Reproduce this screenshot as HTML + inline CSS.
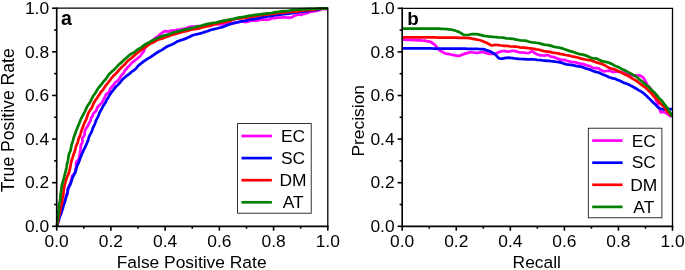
<!DOCTYPE html>
<html><head><meta charset="utf-8"><title>ROC and PR curves</title>
<style>
html,body{margin:0;padding:0;background:#fff;}
svg{display:block;will-change:transform;}
text{font-family:"Liberation Sans",Arial,sans-serif;fill:#000;}
.t{font-size:17.4px;}
.l{font-size:17.4px;}
.p{font-size:20px;font-weight:bold;}
</style></head><body>
<svg width="685" height="270" viewBox="0 0 685 270">
<rect width="685" height="270" fill="#fff"/>
<clipPath id="ca"><rect x="55.7" y="6.999999999999999" width="273.1" height="220.50000000000003"/></clipPath>
<g clip-path="url(#ca)">
<polyline fill="none" stroke="#ff00ff" stroke-width="2.75" stroke-linejoin="round" stroke-linecap="butt" points="56.7,226.3 57.4,224.9 57.6,223.4 58.0,222.0 58.4,220.5 58.8,219.1 59.1,217.6 59.6,216.1 60.4,214.8 61.0,213.4 61.2,211.9 61.6,210.5 62.2,209.1 62.6,207.6 62.7,206.0 63.2,204.6 63.9,203.2 64.6,201.9 64.7,200.3 65.3,199.0 66.0,197.6 66.6,196.2 67.1,194.8 67.6,193.4 67.7,191.8 67.6,190.2 67.7,188.6 68.5,187.3 69.2,185.9 69.8,184.6 70.3,183.1 70.7,181.7 71.3,180.3 71.4,178.7 72.0,177.3 72.2,175.8 73.5,174.6 74.7,173.5 75.3,172.1 75.5,170.5 75.6,169.0 76.1,167.6 76.2,166.0 76.2,164.5 76.1,162.9 76.7,161.5 78.1,160.3 79.0,159.0 79.1,157.4 79.3,155.9 79.8,154.5 80.1,153.0 80.1,151.5 80.4,150.0 80.6,148.5 80.5,146.9 80.9,145.5 81.4,144.0 82.3,142.7 82.5,141.2 82.3,139.6 82.4,138.0 83.5,136.8 84.4,135.5 84.7,134.0 84.6,132.4 85.0,130.9 85.6,129.5 86.2,128.1 87.2,126.9 87.9,125.6 88.6,124.2 89.2,122.8 90.1,121.6 90.6,120.1 90.9,118.7 91.6,117.4 92.5,116.1 92.9,114.6 93.6,113.2 94.7,112.2 96.0,111.2 96.5,109.7 97.0,108.3 97.7,107.0 98.7,105.8 99.8,104.7 101.1,103.7 102.1,102.6 102.7,101.2 103.4,99.8 104.1,98.5 104.8,97.1 105.4,95.7 106.1,94.4 107.4,93.5 108.7,92.5 109.4,91.3 109.9,89.7 110.5,88.2 111.6,87.1 112.7,86.1 113.6,84.9 114.4,83.6 115.3,82.4 116.7,81.6 117.7,80.5 118.9,79.5 119.7,78.2 120.4,76.8 121.1,75.5 122.3,74.5 123.5,73.5 124.1,72.1 124.8,70.7 125.8,69.5 126.8,68.5 127.6,67.2 128.8,66.2 129.9,65.1 130.8,64.0 131.8,62.8 133.0,61.9 134.3,61.0 135.4,60.0 136.6,59.1 137.8,58.2 138.9,57.2 140.1,56.2 141.0,55.0 141.9,53.7 142.8,52.6 143.7,51.4 144.3,50.0 144.7,48.5 145.4,47.2 146.2,45.9 146.8,44.5 147.9,43.2 149.4,42.5 150.9,42.0 152.1,41.1 153.3,40.2 154.2,38.9 155.3,38.0 156.6,37.2 157.9,36.3 159.0,35.3 160.1,34.2 161.4,33.4 162.6,32.4 163.9,31.7 165.3,31.1 167.0,31.3 168.5,31.6 169.9,30.9 171.4,30.5 172.9,30.4 174.5,30.8 175.9,30.2 177.4,29.7 178.9,29.8 180.4,29.6 181.9,29.1 183.3,28.8 184.9,28.7 186.3,28.3 187.7,27.6 189.2,27.2 190.6,26.6 192.1,26.6 193.7,26.5 195.2,26.7 196.7,26.4 198.2,26.1 199.7,26.0 201.2,26.3 202.7,25.8 204.2,25.5 205.7,25.2 207.2,25.4 208.7,25.2 210.2,25.4 211.7,25.3 213.2,24.6 214.6,23.8 216.1,23.8 217.7,24.2 219.2,24.5 220.7,24.4 222.2,24.1 223.7,23.9 225.2,23.6 226.7,23.1 228.2,23.1 229.7,23.0 231.2,23.1 232.7,23.0 234.3,23.3 235.7,22.6 237.2,22.3 238.7,22.0 240.2,21.8 241.7,21.3 243.2,21.7 244.8,22.0 246.3,22.0 247.8,21.6 249.2,21.3 250.7,20.7 252.2,20.5 253.7,20.6 255.2,20.6 256.7,20.6 258.2,20.2 259.7,19.9 261.2,19.6 262.7,19.6 264.2,19.6 265.7,19.6 267.3,19.8 268.8,19.5 270.3,19.1 271.7,18.3 273.2,18.1 274.7,18.1 276.2,18.0 277.7,17.7 279.2,17.5 280.7,17.5 282.2,17.3 283.7,17.3 285.2,17.4 286.7,17.5 288.2,17.5 289.7,17.7 291.3,17.5 292.7,16.8 294.0,16.0 295.5,15.5 296.8,14.8 298.4,14.6 299.9,14.6 301.5,14.8 302.8,14.0 304.3,13.8 305.8,13.4 307.3,13.2 308.6,12.3 310.1,11.9 311.5,11.6 313.1,11.4 314.6,11.1 316.0,10.8 317.6,10.6 319.0,10.1 320.3,9.4 321.8,8.9 323.3,8.9 324.9,9.2 326.4,9.1 327.8,8.2"/>
<polyline fill="none" stroke="#0000ff" stroke-width="2.75" stroke-linejoin="round" stroke-linecap="butt" points="56.7,226.3 57.4,224.4 58.2,222.5 58.7,220.6 59.2,218.6 59.8,216.7 60.5,214.8 61.2,212.9 61.9,211.0 62.6,209.1 63.1,207.2 63.6,205.2 64.3,203.3 65.0,201.4 65.5,199.4 65.8,197.4 66.4,195.5 67.1,193.6 67.7,191.7 68.0,189.7 68.6,187.7 69.6,185.9 70.4,184.1 71.1,182.2 71.7,180.3 72.3,178.3 73.1,176.5 74.1,174.7 74.9,172.9 75.6,171.0 76.2,169.0 76.7,167.1 77.4,165.2 78.3,163.4 79.1,161.5 79.8,159.6 80.4,157.7 81.2,155.8 81.9,153.9 82.7,152.1 83.5,150.2 84.5,148.5 85.4,146.7 86.2,144.8 87.0,143.0 87.8,141.1 88.4,139.1 88.9,137.2 89.7,135.3 90.7,133.6 91.6,131.7 92.3,129.9 92.9,127.9 93.8,126.1 94.7,124.3 95.4,122.4 96.0,120.5 97.0,118.7 97.9,116.9 98.7,115.0 99.4,113.1 100.3,111.3 101.4,109.5 102.3,107.7 103.2,105.9 104.4,104.2 105.5,102.5 106.3,100.6 107.3,98.9 108.4,97.2 109.4,95.4 110.5,93.8 111.6,92.2 112.9,90.7 114.0,89.0 115.3,87.5 116.6,86.0 118.2,84.7 119.5,83.2 120.8,81.6 122.0,80.0 123.5,78.5 125.0,77.2 126.6,75.9 128.3,74.6 129.9,73.4 131.4,72.0 133.0,70.8 134.7,69.6 136.3,68.3 137.5,66.6 138.9,65.1 140.5,63.9 142.1,62.7 143.6,61.4 145.3,60.3 147.0,59.2 148.7,58.1 150.5,57.1 152.2,56.0 153.8,54.8 155.5,53.6 157.2,52.5 158.9,51.5 160.7,50.6 162.5,49.6 164.1,48.4 165.8,47.3 167.6,46.3 169.5,45.5 171.3,44.7 173.2,44.0 175.0,42.9 176.6,41.8 178.5,41.0 180.4,40.4 182.4,39.8 184.2,39.1 186.1,38.4 188.0,37.6 189.8,36.7 191.6,35.8 193.5,35.0 195.5,34.5 197.5,34.1 199.5,33.7 201.4,33.1 203.3,32.5 205.2,31.9 207.2,31.3 209.1,30.6 210.9,29.8 212.9,29.4 214.9,28.9 216.9,28.5 218.8,28.0 220.8,27.5 222.7,26.9 224.6,26.2 226.5,25.4 228.4,24.7 230.3,24.1 232.2,23.5 234.2,23.0 236.1,22.5 238.1,22.1 240.1,21.6 242.0,21.3 244.0,21.0 246.0,20.6 247.9,19.9 249.9,19.4 251.9,19.3 253.9,19.1 255.9,18.7 257.9,18.3 259.9,17.8 261.8,17.3 263.8,16.9 265.9,16.8 267.8,16.5 269.8,16.2 271.8,15.8 273.8,15.5 275.8,15.2 277.8,14.9 279.8,14.7 281.8,14.3 283.8,14.2 285.8,14.0 287.8,13.8 289.8,13.4 291.8,13.1 293.8,12.8 295.8,12.5 297.8,12.3 299.8,12.0 301.8,11.6 303.8,11.4 305.8,11.4 307.8,11.1 309.8,10.7 311.8,10.2 313.8,10.1 315.8,9.9 317.8,9.7 319.8,9.1 321.8,8.7 323.7,8.3 325.8,8.3 327.8,8.2"/>
<polyline fill="none" stroke="#ff0000" stroke-width="2.75" stroke-linejoin="round" stroke-linecap="butt" points="56.7,226.3 57.1,224.3 57.8,222.4 58.1,220.4 58.3,218.4 58.7,216.4 59.4,214.5 59.8,212.5 60.1,210.5 60.4,208.5 60.9,206.6 61.5,204.6 62.0,202.7 62.2,200.7 62.4,198.6 62.8,196.7 63.2,194.7 63.5,192.7 63.7,190.7 64.0,188.6 64.2,186.6 64.7,184.7 65.3,182.8 65.8,180.9 66.4,178.9 67.0,177.0 67.9,175.1 68.7,173.3 69.3,171.3 69.8,169.4 70.2,167.4 70.6,165.4 70.9,163.4 71.4,161.5 72.0,159.5 72.6,157.6 73.2,155.7 73.8,153.8 74.6,151.9 75.2,150.0 75.6,148.0 76.1,146.0 77.0,144.2 77.8,142.3 78.2,140.3 78.8,138.4 79.6,136.6 80.3,134.6 80.9,132.7 81.4,130.8 82.2,128.9 82.9,127.0 83.6,125.1 84.3,123.2 85.2,121.4 86.2,119.6 86.8,117.7 87.4,115.8 88.1,113.9 88.9,112.0 90.1,110.3 91.2,108.6 92.2,106.8 92.9,104.9 93.8,103.0 94.8,101.3 95.9,99.6 97.1,98.0 98.2,96.3 99.3,94.6 100.3,92.8 101.6,91.3 102.9,89.8 104.0,88.2 105.1,86.5 106.3,84.8 107.6,83.3 108.9,81.7 110.1,80.1 111.2,78.4 112.6,76.9 113.9,75.4 115.5,74.0 116.9,72.5 118.3,71.0 119.5,69.4 120.9,68.0 122.4,66.6 123.9,65.2 125.3,63.8 126.5,62.2 128.0,60.7 129.6,59.5 131.2,58.3 132.7,56.9 134.3,55.6 135.8,54.3 137.3,53.0 138.9,51.8 140.5,50.5 142.1,49.3 143.7,48.1 145.5,47.1 147.2,46.0 148.8,44.6 150.5,43.6 152.4,42.8 154.2,41.9 156.0,40.9 157.7,39.8 159.6,39.2 161.5,38.6 163.4,38.1 165.3,37.2 167.2,36.6 169.1,36.0 171.0,35.3 172.9,34.7 174.9,34.1 176.9,33.7 178.8,33.0 180.7,32.4 182.6,31.8 184.7,31.5 186.6,31.2 188.6,30.5 190.5,29.9 192.5,29.4 194.5,29.2 196.5,28.9 198.5,28.6 200.4,28.0 202.3,27.3 204.3,26.8 206.3,26.5 208.3,26.2 210.2,25.6 212.1,25.0 214.1,24.5 216.1,24.1 218.0,23.5 219.9,22.9 221.9,22.4 223.9,22.1 225.9,21.9 227.9,21.4 229.8,20.9 231.7,20.2 233.7,19.5 235.6,18.9 237.6,18.7 239.6,18.4 241.7,18.3 243.7,18.1 245.7,17.9 247.7,17.5 249.6,17.1 251.6,16.9 253.6,16.5 255.6,16.2 257.6,15.7 259.6,15.5 261.6,15.1 263.6,14.9 265.6,14.7 267.6,14.5 269.6,14.3 271.6,14.0 273.6,13.9 275.6,13.5 277.6,13.2 279.6,13.0 281.6,12.9 283.6,12.6 285.6,12.3 287.6,12.2 289.7,12.0 291.7,11.9 293.7,11.7 295.7,11.6 297.7,11.4 299.7,11.0 301.7,10.7 303.7,10.3 305.7,10.2 307.7,10.2 309.7,10.2 311.8,10.0 313.8,9.7 315.7,9.3 317.7,9.0 319.8,8.9 321.8,8.9 323.8,8.7 325.8,8.5 327.8,8.2"/>
<polyline fill="none" stroke="#008000" stroke-width="2.75" stroke-linejoin="round" stroke-linecap="butt" points="56.7,226.3 57.0,224.3 57.2,222.3 57.4,220.3 57.7,218.3 58.1,216.3 58.3,214.3 58.4,212.3 58.8,210.3 58.9,208.3 59.0,206.2 59.0,204.2 59.6,202.3 60.1,200.3 60.4,198.3 60.4,196.3 60.6,194.3 61.0,192.3 61.3,190.3 61.5,188.2 61.7,186.2 62.1,184.3 62.7,182.3 63.3,180.4 63.8,178.5 64.3,176.5 64.8,174.5 65.3,172.6 65.8,170.6 66.3,168.7 66.7,166.7 66.9,164.7 67.3,162.7 67.9,160.8 68.3,158.8 68.4,156.7 68.8,154.8 69.5,152.8 70.4,151.0 70.8,149.0 71.2,147.0 71.6,145.0 72.2,143.1 72.8,141.2 73.3,139.3 73.8,137.3 74.6,135.4 75.2,133.5 75.9,131.6 76.6,129.7 77.4,127.8 78.1,126.0 79.0,124.1 79.6,122.2 80.4,120.3 81.2,118.5 82.2,116.7 83.1,114.9 84.0,113.1 85.0,111.4 85.8,109.5 86.6,107.6 87.5,105.8 88.8,104.2 89.9,102.5 90.9,100.7 91.7,98.9 92.6,97.1 93.6,95.3 94.8,93.7 95.9,92.1 97.0,90.3 97.9,88.6 99.2,87.0 100.5,85.5 101.8,83.9 103.0,82.2 104.3,80.7 105.7,79.2 106.9,77.5 108.0,75.8 109.2,74.1 110.7,72.7 112.1,71.3 113.7,70.0 115.1,68.6 116.5,67.1 117.8,65.6 119.2,64.2 120.8,62.9 122.3,61.6 123.7,60.1 125.2,58.8 126.8,57.5 128.3,56.1 129.8,54.8 131.5,53.7 133.4,52.8 135.1,51.6 136.6,50.3 138.2,49.2 140.0,48.2 141.7,47.1 143.2,45.8 144.9,44.6 146.7,43.7 148.5,42.8 150.3,41.7 152.0,40.6 153.9,39.8 155.7,39.0 157.5,38.2 159.3,37.3 161.2,36.6 163.1,35.8 165.0,35.2 166.9,34.8 168.9,34.3 170.8,33.5 172.7,32.7 174.6,32.2 176.6,31.8 178.6,31.4 180.6,30.8 182.5,30.2 184.4,29.7 186.4,29.3 188.4,28.9 190.3,28.4 192.3,27.9 194.3,27.5 196.2,26.9 198.2,26.4 200.1,26.0 202.1,25.5 204.0,24.8 206.0,24.4 207.9,23.9 209.9,23.5 211.9,23.1 213.9,22.8 215.9,22.5 217.9,22.1 219.8,21.6 221.8,21.1 223.7,20.6 225.7,20.3 227.7,19.9 229.7,19.5 231.7,19.1 233.7,18.8 235.6,18.3 237.6,17.8 239.6,17.4 241.6,17.2 243.6,16.9 245.6,16.5 247.5,16.1 249.5,15.7 251.5,15.5 253.5,15.2 255.5,14.9 257.5,14.6 259.5,14.3 261.5,14.1 263.5,13.8 265.5,13.6 267.5,13.4 269.5,13.3 271.5,13.0 273.5,12.6 275.5,12.2 277.5,12.0 279.5,11.7 281.5,11.4 283.5,11.1 285.5,11.1 287.6,10.9 289.6,10.6 291.5,10.2 293.5,9.9 295.6,9.8 297.6,9.7 299.6,9.6 301.6,9.4 303.6,9.2 305.6,9.2 307.6,9.1 309.6,8.9 311.7,8.9 313.7,9.0 315.7,8.8 317.7,8.6 319.7,8.4 321.7,8.3 323.8,8.4 325.8,8.6 327.8,8.2"/>
</g>
<line x1="56.70" y1="226.30" x2="56.70" y2="230.70" stroke="#000" stroke-width="1.6"/>
<line x1="56.70" y1="226.30" x2="52.10" y2="226.30" stroke="#000" stroke-width="1.6"/>
<text class="t" x="56.70" y="247.20" text-anchor="middle">0.0</text>
<text class="t" x="49.10" y="232.00" text-anchor="end">0.0</text>
<line x1="83.81" y1="226.30" x2="83.81" y2="228.70" stroke="#000" stroke-width="1.6"/>
<line x1="56.70" y1="204.49" x2="54.10" y2="204.49" stroke="#000" stroke-width="1.6"/>
<line x1="110.92" y1="226.30" x2="110.92" y2="230.70" stroke="#000" stroke-width="1.6"/>
<line x1="56.70" y1="182.68" x2="52.10" y2="182.68" stroke="#000" stroke-width="1.6"/>
<text class="t" x="110.92" y="247.20" text-anchor="middle">0.2</text>
<text class="t" x="49.10" y="188.38" text-anchor="end">0.2</text>
<line x1="138.03" y1="226.30" x2="138.03" y2="228.70" stroke="#000" stroke-width="1.6"/>
<line x1="56.70" y1="160.87" x2="54.10" y2="160.87" stroke="#000" stroke-width="1.6"/>
<line x1="165.14" y1="226.30" x2="165.14" y2="230.70" stroke="#000" stroke-width="1.6"/>
<line x1="56.70" y1="139.06" x2="52.10" y2="139.06" stroke="#000" stroke-width="1.6"/>
<text class="t" x="165.14" y="247.20" text-anchor="middle">0.4</text>
<text class="t" x="49.10" y="144.76" text-anchor="end">0.4</text>
<line x1="192.25" y1="226.30" x2="192.25" y2="228.70" stroke="#000" stroke-width="1.6"/>
<line x1="56.70" y1="117.25" x2="54.10" y2="117.25" stroke="#000" stroke-width="1.6"/>
<line x1="219.36" y1="226.30" x2="219.36" y2="230.70" stroke="#000" stroke-width="1.6"/>
<line x1="56.70" y1="95.44" x2="52.10" y2="95.44" stroke="#000" stroke-width="1.6"/>
<text class="t" x="219.36" y="247.20" text-anchor="middle">0.6</text>
<text class="t" x="49.10" y="101.14" text-anchor="end">0.6</text>
<line x1="246.47" y1="226.30" x2="246.47" y2="228.70" stroke="#000" stroke-width="1.6"/>
<line x1="56.70" y1="73.63" x2="54.10" y2="73.63" stroke="#000" stroke-width="1.6"/>
<line x1="273.58" y1="226.30" x2="273.58" y2="230.70" stroke="#000" stroke-width="1.6"/>
<line x1="56.70" y1="51.82" x2="52.10" y2="51.82" stroke="#000" stroke-width="1.6"/>
<text class="t" x="273.58" y="247.20" text-anchor="middle">0.8</text>
<text class="t" x="49.10" y="57.52" text-anchor="end">0.8</text>
<line x1="300.69" y1="226.30" x2="300.69" y2="228.70" stroke="#000" stroke-width="1.6"/>
<line x1="56.70" y1="30.01" x2="54.10" y2="30.01" stroke="#000" stroke-width="1.6"/>
<line x1="327.80" y1="226.30" x2="327.80" y2="230.70" stroke="#000" stroke-width="1.6"/>
<line x1="56.70" y1="8.20" x2="52.10" y2="8.20" stroke="#000" stroke-width="1.6"/>
<text class="t" x="327.80" y="247.20" text-anchor="middle">1.0</text>
<text class="t" x="49.10" y="13.90" text-anchor="end">1.0</text>
<path d="M56.70 8.20 H327.80 V226.30" fill="none" stroke="#000" stroke-width="1.3"/>
<path d="M56.70 8.20 V226.30 H327.80" fill="none" stroke="#000" stroke-width="1.65" stroke-linecap="square"/>
<text class="l" x="191.65" y="268" text-anchor="middle">False Positive Rate</text>
<text class="l" style="font-size:17.6px" transform="translate(13.70,120.30) rotate(-90)" text-anchor="middle">True Positive Rate</text>
<text class="p" style="font-size:19.5px" x="61.00" y="24.80">a</text>
<rect x="237.60" y="123.60" width="73.6" height="89.6" fill="#fff" stroke="#000" stroke-width="0.8"/>
<line x1="241.50" y1="136.00" x2="271.90" y2="136.00" stroke="#ff00ff" stroke-width="2.7"/>
<text class="t" x="293.10" y="142.20" text-anchor="middle">EC</text>
<line x1="241.50" y1="158.10" x2="271.90" y2="158.10" stroke="#0000ff" stroke-width="2.7"/>
<text class="t" x="293.10" y="163.80" text-anchor="middle">SC</text>
<line x1="241.50" y1="180.20" x2="271.90" y2="180.20" stroke="#ff0000" stroke-width="2.7"/>
<text class="t" x="293.10" y="185.90" text-anchor="middle">DM</text>
<line x1="241.50" y1="202.30" x2="271.90" y2="202.30" stroke="#008000" stroke-width="2.7"/>
<text class="t" x="293.10" y="208.00" text-anchor="middle">AT</text>
<clipPath id="cb"><rect x="401.2" y="7.1000000000000005" width="272.3" height="220.4"/></clipPath>
<g clip-path="url(#cb)">
<polyline fill="none" stroke="#ff00ff" stroke-width="2.75" stroke-linejoin="round" stroke-linecap="butt" points="402.4,39.6 403.9,39.7 405.4,39.7 406.9,39.8 408.4,39.9 409.9,39.9 411.5,40.0 413.0,40.1 414.5,40.1 416.0,40.2 417.5,40.3 419.0,40.3 420.5,40.4 422.0,40.5 423.5,40.5 425.0,40.6 426.5,41.0 428.0,41.3 429.5,41.6 430.9,42.0 432.2,42.9 433.4,43.8 434.6,44.7 435.6,45.8 436.6,46.9 437.5,48.1 438.4,49.3 439.5,50.3 440.9,51.0 442.2,51.8 443.5,52.5 444.8,53.3 446.3,53.7 447.7,53.9 449.2,54.2 450.7,54.5 452.2,54.8 453.7,55.1 455.2,55.4 456.6,55.6 458.1,55.9 459.6,55.8 461.0,55.2 462.4,54.6 463.8,54.1 465.2,53.6 466.7,53.2 468.2,52.8 469.6,52.4 471.1,52.0 472.6,52.3 474.0,52.5 475.5,52.8 477.0,53.0 478.5,52.7 480.0,52.5 481.5,52.2 483.0,52.0 484.4,52.5 485.8,53.0 487.3,53.4 488.7,53.8 490.2,53.9 491.7,54.0 493.2,53.9 494.8,53.7 496.2,53.3 497.6,52.8 499.0,52.1 500.4,51.6 501.9,51.2 503.4,51.0 504.9,51.1 506.4,51.4 507.9,51.7 509.4,51.5 510.9,51.0 512.5,50.8 514.0,50.9 515.5,51.2 517.0,51.6 518.4,52.1 519.9,52.3 521.4,52.5 522.9,52.7 524.4,52.7 525.9,53.0 527.5,53.2 529.0,52.9 530.4,52.0 531.9,51.4 533.4,52.1 534.7,53.0 536.1,53.8 537.5,54.5 538.9,54.9 540.4,55.3 542.0,55.4 543.5,55.5 545.0,55.5 546.6,55.1 548.2,55.1 549.6,55.9 550.9,56.7 552.4,56.8 553.9,57.1 555.3,57.8 556.8,58.2 558.2,58.7 559.6,59.4 561.0,59.9 562.6,59.8 564.1,59.9 565.6,60.2 567.0,60.8 568.5,61.3 569.9,61.7 571.4,62.0 572.9,62.2 574.5,62.1 575.9,62.5 577.4,63.0 578.8,63.5 580.3,63.6 581.8,63.8 583.3,64.1 584.7,64.6 586.2,65.2 587.6,65.7 589.1,65.9 590.5,66.6 591.8,67.4 593.2,68.0 594.8,68.1 596.3,68.1 597.9,68.2 599.3,68.8 600.6,69.8 601.9,70.6 603.4,71.1 604.9,71.3 606.5,71.0 608.1,70.8 609.6,70.6 611.1,71.3 612.6,71.9 614.1,72.0 615.6,71.6 617.1,71.5 618.6,71.8 620.1,71.9 621.6,72.0 623.1,72.7 624.5,73.1 625.9,73.7 627.4,74.0 628.8,74.7 630.2,75.2 631.7,75.5 633.3,75.4 634.8,75.4 636.3,75.5 637.8,75.5 639.3,75.4 640.8,75.8 642.1,76.7 643.3,77.7 644.2,78.9 644.8,80.4 645.7,81.6 646.4,82.9 647.0,84.3 647.5,85.7 649.0,86.6 650.0,87.7 650.7,89.0 651.4,90.4 652.2,91.7 653.0,92.9 653.8,94.2 654.6,95.5 655.0,97.0 655.4,98.5 655.8,99.9 656.4,101.2 657.4,102.5 657.7,103.9 657.9,105.4 658.2,106.9 659.3,108.2 659.7,109.6 660.3,111.0 660.8,112.3 662.3,112.0 663.8,112.2 665.3,112.7 666.7,113.6 668.0,114.3 669.2,115.2 670.5,115.9 671.7,116.8"/>
<polyline fill="none" stroke="#0000ff" stroke-width="2.75" stroke-linejoin="round" stroke-linecap="butt" points="402.4,48.4 404.5,48.4 406.5,48.4 408.6,48.4 410.7,48.4 412.7,48.4 414.8,48.4 416.8,48.4 418.9,48.4 420.9,48.4 423.0,48.4 425.0,48.4 427.0,48.4 429.1,48.4 431.1,48.4 433.1,48.5 435.2,48.5 437.2,48.5 439.2,48.5 441.2,48.5 443.2,48.5 445.2,48.5 447.2,48.5 449.3,48.6 451.3,48.6 453.3,48.6 455.3,48.6 457.3,48.6 459.3,48.7 461.3,48.7 463.3,48.7 465.2,48.7 467.2,48.8 469.2,48.8 471.2,48.8 473.2,48.9 475.2,48.9 477.2,48.9 479.1,49.0 481.1,49.0 483.1,49.2 485.1,49.7 487.0,50.4 488.9,51.0 490.8,51.8 492.6,52.7 494.3,53.8 495.9,55.0 497.4,56.7 498.8,58.2 500.5,58.7 502.5,58.7 504.5,58.2 506.6,57.9 508.6,57.6 510.7,57.9 512.7,58.1 514.7,58.5 516.7,58.6 518.7,58.9 520.7,59.0 522.7,59.2 524.7,59.2 526.8,59.4 528.8,59.4 530.8,59.4 532.8,59.4 534.8,59.5 536.8,59.8 538.8,60.0 540.9,60.2 542.9,60.5 544.9,60.6 546.9,60.8 548.9,60.9 550.9,61.2 552.9,61.4 554.9,61.7 556.9,61.9 558.9,62.2 560.9,62.7 562.8,63.2 564.7,63.9 566.7,64.4 568.7,64.7 570.8,64.8 572.7,65.1 574.7,65.6 576.7,66.2 578.7,66.4 580.7,66.7 582.6,67.2 584.5,67.9 586.4,68.7 588.4,69.1 590.2,69.8 592.1,70.6 594.0,71.3 596.0,71.8 597.9,72.3 599.8,73.0 601.7,73.9 603.5,74.7 605.4,75.5 607.2,76.3 609.0,77.2 611.0,77.8 613.0,78.3 614.9,78.7 616.8,79.6 618.7,80.3 620.5,81.1 622.3,82.0 624.2,82.9 626.1,83.5 628.0,84.2 629.8,85.1 631.5,86.1 633.4,87.0 635.1,88.0 636.9,89.0 638.5,90.2 640.4,91.0 642.0,92.2 643.8,93.3 645.2,94.8 646.7,96.0 648.1,97.5 649.7,98.8 651.0,100.3 652.5,101.7 653.9,103.2 655.5,104.5 656.8,106.1 658.2,107.6 660.0,108.5 662.0,109.2 663.9,109.4 665.9,109.4 667.9,109.2 669.9,109.0 672.0,109.0"/>
<polyline fill="none" stroke="#ff0000" stroke-width="2.75" stroke-linejoin="round" stroke-linecap="butt" points="402.4,37.3 404.4,37.3 406.5,37.3 408.5,37.3 410.5,37.3 412.6,37.3 414.6,37.3 416.6,37.3 418.6,37.3 420.7,37.3 422.7,37.3 424.7,37.4 426.7,37.4 428.8,37.4 430.8,37.4 432.8,37.4 434.8,37.4 436.8,37.5 438.8,37.5 440.9,37.5 442.9,37.5 444.9,37.5 446.9,37.6 448.9,37.6 450.9,37.6 452.9,37.7 454.9,37.7 456.9,37.7 459.0,37.8 461.0,37.8 463.0,37.9 465.0,37.9 467.0,38.0 469.0,38.2 471.0,38.4 473.0,38.8 475.0,39.1 477.0,39.6 478.9,40.0 480.9,40.5 482.8,41.2 484.6,42.0 486.5,42.8 488.3,43.7 490.1,44.9 492.0,45.5 494.0,45.0 495.9,44.8 497.9,45.0 499.9,45.3 501.9,45.5 504.0,45.8 506.0,45.9 508.0,46.0 510.0,46.3 512.0,46.5 514.0,46.6 516.1,46.6 518.1,47.0 520.0,47.4 522.0,47.6 524.1,47.6 526.1,47.8 528.1,48.2 530.1,48.3 532.1,48.6 534.1,48.9 536.1,49.3 538.1,49.5 540.0,50.0 542.0,50.6 543.9,51.1 545.9,51.4 548.0,51.6 549.9,51.9 551.9,52.4 553.9,52.8 555.9,53.0 557.9,53.4 559.9,53.9 561.8,54.2 563.8,54.6 565.8,55.0 567.8,55.3 569.8,55.7 571.7,56.3 573.7,56.7 575.7,57.1 577.6,57.5 579.6,58.2 581.5,58.7 583.5,59.1 585.5,59.5 587.5,59.8 589.5,60.1 591.5,60.5 593.4,61.2 595.3,62.0 597.2,62.6 599.1,63.1 601.1,63.6 603.0,64.4 604.8,65.4 606.5,66.4 608.3,67.4 610.2,68.2 612.1,68.8 614.1,69.2 616.0,70.0 617.8,70.9 619.6,71.8 621.5,72.5 623.2,73.5 625.0,74.4 626.9,75.3 628.6,76.2 630.4,77.3 632.1,78.4 633.8,79.4 635.6,80.4 637.3,81.5 638.9,82.7 640.4,84.0 642.1,85.2 643.7,86.3 645.4,87.5 646.9,88.9 648.3,90.3 649.7,91.7 651.2,93.1 652.4,94.7 653.7,96.3 655.1,97.7 656.6,99.1 658.1,100.5 659.3,102.1 660.6,103.7 662.1,105.1 663.6,106.4 664.9,108.0 665.9,109.7 667.1,111.4 668.5,112.8 669.8,114.3 671.0,116.0"/>
<polyline fill="none" stroke="#008000" stroke-width="2.75" stroke-linejoin="round" stroke-linecap="butt" points="402.4,28.6 404.4,28.6 406.5,28.6 408.5,28.6 410.5,28.6 412.5,28.6 414.6,28.6 416.6,28.6 418.6,28.6 420.7,28.6 422.7,28.6 424.7,28.6 426.7,28.6 428.8,28.6 430.8,28.6 432.8,28.6 434.8,28.6 436.9,28.6 438.9,28.7 440.9,28.8 443.0,28.9 445.0,29.0 447.0,29.2 449.0,29.4 451.0,29.6 453.0,30.0 455.0,30.5 456.9,31.2 458.8,31.9 460.6,32.9 462.4,34.1 464.2,34.9 466.1,35.0 468.1,34.8 470.2,34.5 472.2,34.2 474.3,34.0 476.3,34.1 478.2,34.4 480.2,34.9 482.2,35.4 484.2,35.9 486.2,36.1 488.2,36.4 490.2,36.6 492.2,36.8 494.3,37.0 496.3,37.2 498.3,37.4 500.3,37.5 502.3,37.7 504.4,37.9 506.4,38.3 508.4,38.5 510.4,38.7 512.4,38.9 514.4,39.1 516.4,39.7 518.4,40.0 520.4,40.4 522.4,40.5 524.5,40.7 526.5,40.9 528.4,41.5 530.4,42.0 532.4,42.4 534.4,42.5 536.4,42.8 538.4,43.0 540.4,43.6 542.4,44.1 544.3,44.7 546.3,45.0 548.3,45.2 550.3,45.7 552.3,46.2 554.2,46.9 556.2,47.1 558.2,47.5 560.2,47.9 562.2,48.4 564.1,49.0 566.0,49.7 567.9,50.4 569.8,51.1 571.8,51.7 573.8,52.2 575.7,52.9 577.6,53.5 579.5,54.1 581.6,54.4 583.5,54.8 585.5,55.4 587.4,56.1 589.3,57.0 591.1,57.8 593.1,58.3 595.2,58.4 597.2,58.8 599.0,59.7 600.8,60.6 602.8,61.3 604.8,61.7 606.7,62.2 608.7,62.7 610.6,63.4 612.5,64.3 614.2,65.4 616.1,66.2 618.0,66.9 619.8,67.8 621.5,68.9 623.4,69.7 625.2,70.5 627.0,71.6 628.7,72.5 630.6,73.4 632.4,74.4 634.1,75.4 635.8,76.5 637.5,77.7 639.0,79.0 640.6,80.3 642.2,81.5 643.7,82.9 645.2,84.2 646.9,85.4 648.5,86.6 649.8,88.1 651.2,89.6 652.7,91.0 654.3,92.3 655.6,93.9 656.9,95.4 658.1,97.1 659.5,98.5 661.0,99.9 662.3,101.4 663.5,103.1 664.7,104.8 666.1,106.3 667.3,107.9 668.4,109.6 669.3,111.3 670.4,113.0 671.5,114.8 672.0,116.8"/>
</g>
<line x1="402.20" y1="226.30" x2="402.20" y2="230.70" stroke="#000" stroke-width="1.6"/>
<line x1="402.20" y1="226.30" x2="397.60" y2="226.30" stroke="#000" stroke-width="1.6"/>
<text class="t" x="402.20" y="247.20" text-anchor="middle">0.0</text>
<text class="t" x="394.60" y="232.00" text-anchor="end">0.0</text>
<line x1="429.23" y1="226.30" x2="429.23" y2="228.70" stroke="#000" stroke-width="1.6"/>
<line x1="402.20" y1="204.50" x2="399.60" y2="204.50" stroke="#000" stroke-width="1.6"/>
<line x1="456.26" y1="226.30" x2="456.26" y2="230.70" stroke="#000" stroke-width="1.6"/>
<line x1="402.20" y1="182.70" x2="397.60" y2="182.70" stroke="#000" stroke-width="1.6"/>
<text class="t" x="456.26" y="247.20" text-anchor="middle">0.2</text>
<text class="t" x="394.60" y="188.40" text-anchor="end">0.2</text>
<line x1="483.29" y1="226.30" x2="483.29" y2="228.70" stroke="#000" stroke-width="1.6"/>
<line x1="402.20" y1="160.90" x2="399.60" y2="160.90" stroke="#000" stroke-width="1.6"/>
<line x1="510.32" y1="226.30" x2="510.32" y2="230.70" stroke="#000" stroke-width="1.6"/>
<line x1="402.20" y1="139.10" x2="397.60" y2="139.10" stroke="#000" stroke-width="1.6"/>
<text class="t" x="510.32" y="247.20" text-anchor="middle">0.4</text>
<text class="t" x="394.60" y="144.80" text-anchor="end">0.4</text>
<line x1="537.35" y1="226.30" x2="537.35" y2="228.70" stroke="#000" stroke-width="1.6"/>
<line x1="402.20" y1="117.30" x2="399.60" y2="117.30" stroke="#000" stroke-width="1.6"/>
<line x1="564.38" y1="226.30" x2="564.38" y2="230.70" stroke="#000" stroke-width="1.6"/>
<line x1="402.20" y1="95.50" x2="397.60" y2="95.50" stroke="#000" stroke-width="1.6"/>
<text class="t" x="564.38" y="247.20" text-anchor="middle">0.6</text>
<text class="t" x="394.60" y="101.20" text-anchor="end">0.6</text>
<line x1="591.41" y1="226.30" x2="591.41" y2="228.70" stroke="#000" stroke-width="1.6"/>
<line x1="402.20" y1="73.70" x2="399.60" y2="73.70" stroke="#000" stroke-width="1.6"/>
<line x1="618.44" y1="226.30" x2="618.44" y2="230.70" stroke="#000" stroke-width="1.6"/>
<line x1="402.20" y1="51.90" x2="397.60" y2="51.90" stroke="#000" stroke-width="1.6"/>
<text class="t" x="618.44" y="247.20" text-anchor="middle">0.8</text>
<text class="t" x="394.60" y="57.60" text-anchor="end">0.8</text>
<line x1="645.47" y1="226.30" x2="645.47" y2="228.70" stroke="#000" stroke-width="1.6"/>
<line x1="402.20" y1="30.10" x2="399.60" y2="30.10" stroke="#000" stroke-width="1.6"/>
<line x1="672.50" y1="226.30" x2="672.50" y2="230.70" stroke="#000" stroke-width="1.6"/>
<line x1="402.20" y1="8.30" x2="397.60" y2="8.30" stroke="#000" stroke-width="1.6"/>
<text class="t" x="672.50" y="247.20" text-anchor="middle">1.0</text>
<text class="t" x="394.60" y="14.00" text-anchor="end">1.0</text>
<path d="M402.20 8.30 H672.50 V226.30" fill="none" stroke="#000" stroke-width="1.3"/>
<path d="M402.20 8.30 V226.30 H672.50" fill="none" stroke="#000" stroke-width="1.65" stroke-linecap="square"/>
<text class="l" x="536.75" y="268" text-anchor="middle">Recall</text>
<text class="l" style="font-size:17.4px" transform="translate(363.60,120.75) rotate(-90)" text-anchor="middle">Precision</text>
<text class="p" style="font-size:18.8px" x="407.30" y="24.60">b</text>
<rect x="588.30" y="128.20" width="73.6" height="89.6" fill="#fff" stroke="#000" stroke-width="0.8"/>
<line x1="592.20" y1="140.60" x2="622.60" y2="140.60" stroke="#ff00ff" stroke-width="2.7"/>
<text class="t" x="643.80" y="146.80" text-anchor="middle">EC</text>
<line x1="592.20" y1="162.70" x2="622.60" y2="162.70" stroke="#0000ff" stroke-width="2.7"/>
<text class="t" x="643.80" y="168.40" text-anchor="middle">SC</text>
<line x1="592.20" y1="184.80" x2="622.60" y2="184.80" stroke="#ff0000" stroke-width="2.7"/>
<text class="t" x="643.80" y="190.50" text-anchor="middle">DM</text>
<line x1="592.20" y1="206.90" x2="622.60" y2="206.90" stroke="#008000" stroke-width="2.7"/>
<text class="t" x="643.80" y="212.60" text-anchor="middle">AT</text>
</svg></body></html>
